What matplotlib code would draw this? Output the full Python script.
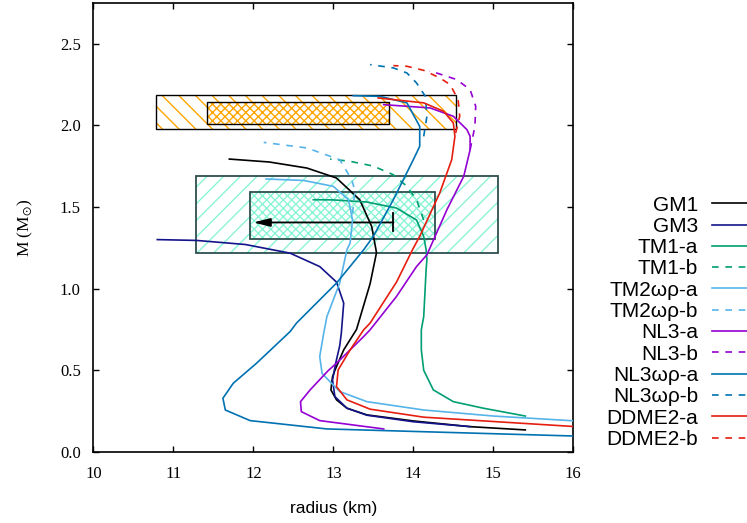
import matplotlib
matplotlib.use("Agg")
import matplotlib.pyplot as plt
from matplotlib.patches import Rectangle
from matplotlib.lines import Line2D

plt.rcParams['font.family'] = ['Liberation Serif', 'DejaVu Serif']
plt.rcParams['mathtext.fontset'] = 'stix'
plt.rcParams['hatch.linewidth'] = 1.0

# ---- mass-radius curves (radius in km, mass in solar masses) ----
GM1_r = [15.40, 14.71, 14.0, 13.42, 13.17, 13.04, 12.97, 12.99, 13.02, 13.13, 13.29, 13.46, 13.54, 13.48, 13.33, 13.04, 12.67, 12.2, 11.70]
GM1_M = [0.135, 0.155, 0.19, 0.227, 0.268, 0.319, 0.38, 0.46, 0.50, 0.625, 0.75, 1.03, 1.22, 1.38, 1.544, 1.677, 1.738, 1.775, 1.793]

GM3_r = [14.71, 14.0, 13.42, 13.17, 13.02, 12.99, 13.03, 13.08, 13.10, 13.13, 13.04, 12.83, 12.46, 11.9, 11.29, 10.80]
GM3_M = [0.155, 0.185, 0.225, 0.268, 0.339, 0.44, 0.544, 0.65, 0.727, 0.911, 1.04, 1.135, 1.217, 1.27, 1.295, 1.30]

TM1a_r = [15.40, 14.875, 14.5, 14.25, 14.13, 14.10, 14.10, 14.13, 14.16, 14.17, 14.16, 14.13, 14.04, 13.79, 13.42, 13.0, 12.75]
TM1a_M = [0.22, 0.268, 0.308, 0.38, 0.50, 0.625, 0.748, 0.829, 1.115, 1.18, 1.238, 1.32, 1.42, 1.493, 1.53, 1.543, 1.544]
TM1b_r = [14.13, 14.04, 13.92, 13.75, 13.5, 13.2, 12.96]
TM1b_M = [1.42, 1.544, 1.626, 1.697, 1.75, 1.78, 1.793]

TM2a_r = [16.2, 15.0, 14.13, 13.42, 13.08, 12.86, 12.83, 12.88, 12.92, 13.08, 13.17, 13.21, 13.24, 13.19, 13.0, 12.63, 12.16]
TM2a_M = [0.185, 0.22, 0.257, 0.308, 0.37, 0.48, 0.584, 0.727, 0.829, 1.034, 1.238, 1.279, 1.42, 1.544, 1.626, 1.662, 1.671]
TM2b_r = [13.24, 13.27, 13.23, 13.08, 12.67, 12.13]
TM2b_M = [1.46, 1.60, 1.667, 1.789, 1.861, 1.895]

NL3a_r = [13.63, 12.83, 12.60, 12.59, 12.71, 12.94, 13.04, 13.38, 13.46, 13.79, 14.04, 14.17, 14.42, 14.63, 14.71, 14.71, 14.67, 14.5, 14.21, 13.63]
NL3a_M = [0.141, 0.192, 0.247, 0.308, 0.38, 0.50, 0.543, 0.707, 0.748, 0.952, 1.135, 1.207, 1.483, 1.687, 1.85, 1.932, 1.973, 2.055, 2.106, 2.126]
NL3b_r = [14.71, 14.77, 14.78, 14.71, 14.54, 14.29, 14.2]
NL3b_M = [1.85, 1.993, 2.116, 2.218, 2.28, 2.32, 2.33]

NL3wr_a_r = [16.2, 14.13, 12.92, 11.96, 11.65, 11.62, 11.75, 12.04, 12.46, 12.54, 13.04, 13.38, 13.5, 13.75, 14.0, 14.08, 14.08, 13.92, 13.58, 13.25]
NL3wr_a_M = [0.095, 0.124, 0.141, 0.192, 0.257, 0.329, 0.421, 0.543, 0.737, 0.789, 1.034, 1.238, 1.32, 1.544, 1.789, 1.871, 1.993, 2.137, 2.177, 2.181]
NL3wr_b_r = [14.13, 14.17, 14.15, 14.04, 13.92, 13.75, 13.46]
NL3wr_b_M = [1.932, 2.055, 2.177, 2.259, 2.32, 2.351, 2.371]

DDME2a_r = [16.2, 14.13, 13.46, 13.17, 13.04, 13.06, 13.21, 13.38, 13.46, 13.79, 13.99, 14.08, 14.33, 14.48, 14.52, 14.5, 14.38, 14.13, 13.56]
DDME2a_M = [0.15, 0.213, 0.262, 0.319, 0.40, 0.502, 0.625, 0.748, 0.789, 1.04, 1.238, 1.32, 1.585, 1.789, 1.932, 2.014, 2.085, 2.137, 2.167]
DDME2b_r = [14.53, 14.58, 14.56, 14.46, 14.33, 14.13, 13.92, 13.75]
DDME2b_M = [1.953, 2.055, 2.157, 2.249, 2.29, 2.336, 2.361, 2.365]

# ---- observational constraint boxes: (r_min, r_max, M_min, M_max) ----
orange_outer = (10.78, 14.53, 1.977, 2.183)
orange_inner = (11.42, 13.69, 2.010, 2.140)
green_outer = (11.28, 15.06, 1.215, 1.691)
green_inner = (11.96, 14.27, 1.305, 1.593)

# arrow inside the green box
arrow_r_start, arrow_r_end, arrow_M = 13.75, 12.00, 1.405
arrow_bar = (1.35, 1.46)

series = [
    ("GM1", GM1_r, GM1_M, "black", "-"),
    ("GM3", GM3_r, GM3_M, "#14148a", "-"),
    ("TM1-a", TM1a_r, TM1a_M, "#009e73", "-"),
    ("TM1-b", TM1b_r, TM1b_M, "#009e73", "--"),
    ("TM2ωρ-a", TM2a_r, TM2a_M, "#56b4e9", "-"),
    ("TM2ωρ-b", TM2b_r, TM2b_M, "#56b4e9", "--"),
    ("NL3-a", NL3a_r, NL3a_M, "#9400d3", "-"),
    ("NL3-b", NL3b_r, NL3b_M, "#9400d3", "--"),
    ("NL3ωρ-a", NL3wr_a_r, NL3wr_a_M, "#0072b2", "-"),
    ("NL3ωρ-b", NL3wr_b_r, NL3wr_b_M, "#0072b2", "--"),
    ("DDME2-a", DDME2a_r, DDME2a_M, "#e51e10", "-"),
    ("DDME2-b", DDME2b_r, DDME2b_M, "#e51e10", "--"),
]

fig = plt.figure(figsize=(7.47, 5.23), dpi=100)
ax = fig.add_axes([0.1249, 0.1358, 0.6426, 0.859])


def hatched_box(box, hatch_color, hatch, edge_color, edge_lw, fill_white):
    r0, r1, m0, m1 = box
    ax.add_patch(Rectangle((r0, m0), r1 - r0, m1 - m0,
                           facecolor="white" if fill_white else "none",
                           edgecolor=hatch_color, hatch=hatch, lw=0, zorder=1))
    ax.add_patch(Rectangle((r0, m0), r1 - r0, m1 - m0, fill=False,
                           edgecolor=edge_color, lw=edge_lw, zorder=1.5))


hatched_box(orange_outer, "orange", "\\\\", "black", 1.0, False)
hatched_box(orange_inner, "orange", "xxxx", "black", 1.0, True)
hatched_box(green_outer, "#8af5d5", "//", "#2f4f4f", 1.3, False)
hatched_box(green_inner, "#8af5d5", "xxxx", "#2f4f4f", 1.3, True)

ax.annotate("", xy=(arrow_r_end, arrow_M), xytext=(arrow_r_start, arrow_M),
            arrowprops=dict(arrowstyle="-|>,head_length=1.0,head_width=0.25",
                            color="black", lw=1.3, shrinkA=0, shrinkB=0),
            zorder=2)
ax.plot([arrow_r_start, arrow_r_start], list(arrow_bar), color="black", lw=1.3, zorder=2)

handles = []
for label, r, m, color, ls in series:
    style = "-" if ls == "-" else (0, (4, 4))
    ax.plot(r, m, color=color, lw=1.2, linestyle=style, zorder=3)
    handles.append(Line2D([], [], color=color, lw=1.2, linestyle=style))

ax.set_xlim(10, 16)
ax.set_ylim(0, 2.75)
ax.set_xticks(range(10, 17))
ax.set_yticks([0.0, 0.5, 1.0, 1.5, 2.0, 2.5])
ax.set_yticklabels([f"{v:.1f}" for v in [0.0, 0.5, 1.0, 1.5, 2.0, 2.5]])
ax.tick_params(direction="in", length=4.5, width=1, top=True, right=True,
               labelsize=12)
ax.tick_params(axis="x", pad=10)
ax.tick_params(axis="y", pad=9)
for s in ax.spines.values():
    s.set_linewidth(1.2)

ax.set_xlabel("radius (km)", family="Liberation Sans", fontsize=12.5, labelpad=14)
ax.set_ylabel(r"M (M$_{\odot}$)", fontsize=12.5, labelpad=18)

fig.legend(handles, [s[0] for s in series], loc="upper right",
           bbox_to_anchor=(1.014, 0.626), frameon=False, markerfirst=False,
           prop={"family": "Liberation Sans", "size": 15},
           handlelength=2.2, handletextpad=0.65, labelspacing=0.11,
           borderpad=0, borderaxespad=0)

fig.savefig("out.png", dpi=100)
